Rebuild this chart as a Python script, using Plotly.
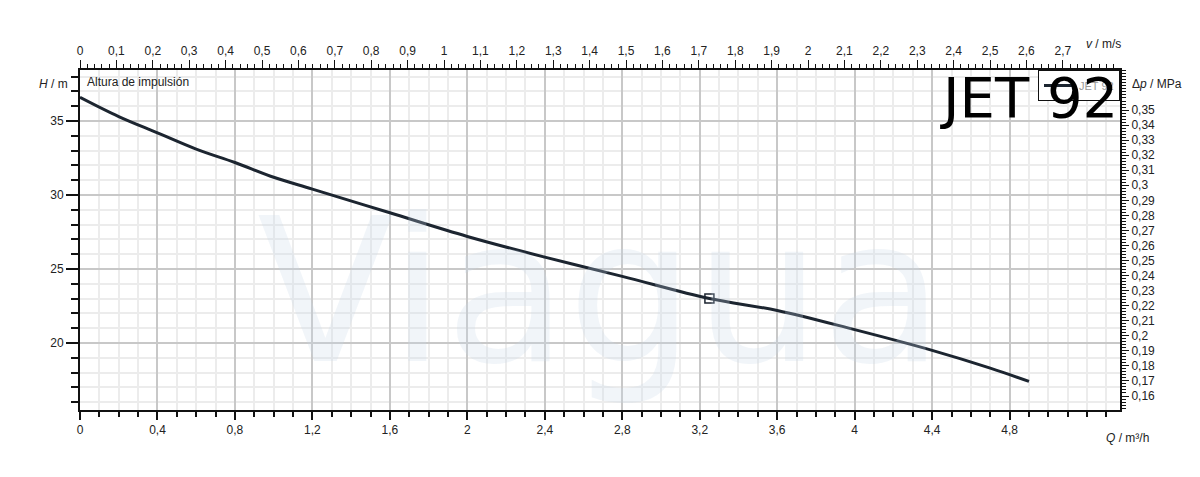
import plotly.graph_objects as go

Q = [0, 0.2, 0.4, 0.6, 0.8, 1.0, 1.2, 1.6, 2.0, 2.4, 2.8, 3.25, 3.6, 4.0, 4.4, 4.7, 4.9]
H = [36.6, 35.3, 34.2, 33.1, 32.2, 31.2, 30.4, 28.8, 27.2, 25.8, 24.5, 23.0, 22.2, 20.9, 19.5, 18.3, 17.4]
op_Q = [3.25]
op_H = [23.0]
qticks = [0, 0.4, 0.8, 1.2, 1.6, 2.0, 2.4, 2.8, 3.2, 3.6, 4.0, 4.4, 4.8]
vticks = [round(i * 0.1, 1) for i in range(28)]
pticks = [round(0.16 + i * 0.01, 2) for i in range(20)]

def fmt(v):
    return ('%g' % v).replace('.', ',')

fig = go.Figure()
fig.add_trace(go.Scatter(x=Q, y=H, mode='lines', line=dict(color='#1c2530', width=3, shape='spline'),
                         name='JET 92', showlegend=True))
fig.add_trace(go.Scatter(x=op_Q, y=op_H, mode='markers', marker=dict(symbol='square-open', size=9, color='#1c2530', line=dict(width=1.5)),
                         showlegend=False))
fig.add_trace(go.Scatter(x=[0, 2.857], y=[None, None], xaxis='x2', showlegend=False))
fig.add_trace(go.Scatter(x=[0], y=[None], yaxis='y2', showlegend=False))

fig.update_layout(
    width=1200, height=477, margin=dict(l=72, r=88, t=62, b=75),
    plot_bgcolor='white', paper_bgcolor='white',
    font=dict(family='Liberation Sans, Arial', size=12, color='#222'),
    xaxis=dict(range=[0, 5.37], tickvals=qticks, ticktext=[fmt(v) for v in qticks],
               showgrid=True, gridcolor='#c8c8c8', gridwidth=1.5,
               minor=dict(dtick=0.1, showgrid=True, gridcolor='#ececec', ticks='outside', ticklen=5, tickcolor='#111'),
               ticks='outside', ticklen=8, tickwidth=2, tickcolor='#111', showline=True, linecolor='#111', linewidth=2,
               zeroline=False),
    xaxis2=dict(range=[0, 2.857], overlaying='x', side='top', tickvals=vticks, ticktext=[fmt(v) for v in vticks],
                ticks='outside', ticklen=8, tickcolor='#111', showline=True, linecolor='#111', linewidth=2,
                minor=dict(dtick=0.02, ticks='outside', ticklen=4, tickcolor='#111'),
                showgrid=False, zeroline=False),
    yaxis=dict(range=[15.47, 38.45], tickvals=[20, 25, 30, 35], showgrid=True, gridcolor='#c8c8c8', gridwidth=1.5,
               minor=dict(dtick=1, showgrid=True, gridcolor='#ececec', ticks='outside', ticklen=7, tickcolor='#111'),
               ticks='outside', ticklen=12, tickwidth=2, tickcolor='#111', showline=True, linecolor='#111', linewidth=2,
               zeroline=False),
    yaxis2=dict(range=[0.1507, 0.3766], overlaying='y', side='right', tickvals=pticks, ticktext=[fmt(v) for v in pticks],
                ticks='outside', ticklen=7, tickcolor='#111', showline=True, linecolor='#111', linewidth=2,
                minor=dict(dtick=0.002, ticks='outside', ticklen=4, tickcolor='#111'),
                showgrid=False, zeroline=False),
    legend=dict(x=1, y=1, xanchor='right', yanchor='top', bordercolor='#111', borderwidth=1, bgcolor='white',
                font=dict(size=11, color='#999')),
)
fig.add_annotation(text='Viagua', xref='paper', yref='paper', x=0.5, y=0.35, showarrow=False,
                   font=dict(size=200, color='rgba(200,215,230,0.25)', family='DejaVu Sans'))
fig.add_annotation(text='Altura de impulsión', xref='paper', yref='paper', x=0.005, y=0.99, xanchor='left', yanchor='top',
                   showarrow=False, font=dict(size=12))
fig.add_annotation(text='JET 92', xref='paper', yref='paper', x=1.0, y=1.02, xanchor='right', yanchor='top',
                   showarrow=False, font=dict(size=56, color='black', family='DejaVu Sans'))
fig.add_annotation(text='<i>H</i> / m', xref='paper', yref='paper', x=-0.01, y=0.985, xanchor='right', showarrow=False, font=dict(size=12))
fig.add_annotation(text='<i>Q</i> / m³/h', xref='paper', yref='paper', x=0.985, y=-0.055, xanchor='left', yanchor='top', showarrow=False, font=dict(size=12))
fig.add_annotation(text='<i>v</i> / m/s', xref='paper', yref='paper', x=0.965, y=1.05, xanchor='left', yanchor='bottom', showarrow=False, font=dict(size=12))
fig.add_annotation(text='Δ<i>p</i> / MPa', xref='paper', yref='paper', x=1.01, y=0.985, xanchor='left', showarrow=False, font=dict(size=12))
fig.write_html('out.html')
